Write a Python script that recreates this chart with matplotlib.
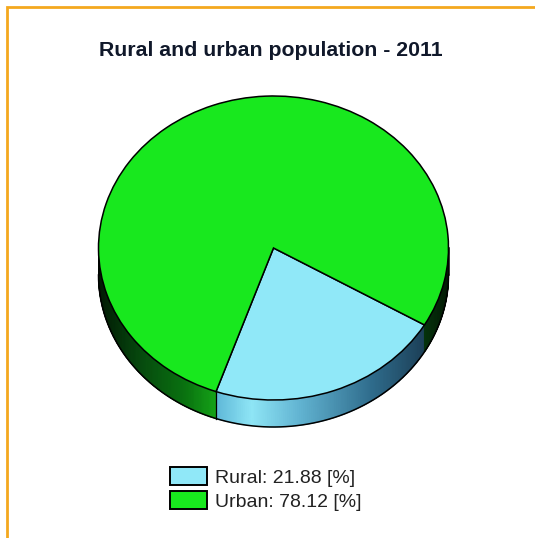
import numpy as np
import matplotlib.pyplot as plt
from matplotlib.colors import LinearSegmentedColormap
from matplotlib.lines import Line2D
from matplotlib.patches import Patch, Wedge

plt.rcParams['font.family'] = ['Liberation Sans', 'DejaVu Sans']

title = 'Rural and urban population - 2011'
labels = ['Rural', 'Urban']
values = [21.88, 78.12]
colors = ['#90e8f8', '#18e81e']

W, H = 535, 538
cx, cy = 273.5, 248      # pie centre in pixels
rx, ry = 175, 152        # ellipse radii in pixels
depth = 27 / ry
start = -30.4            # rural slice starts here and runs clockwise

fig = plt.figure(figsize=(W / 100, H / 100), dpi=100)
ax = fig.add_axes([0, 0, 1, 1])
ax.set_xlim(-cx / rx, (W - cx) / rx)
ax.set_ylim(-(H - cy) / ry, cy / ry)
ax.axis('off')

# gradients on the side wall, as a function of x along the rim
rural_cmap = LinearSegmentedColormap.from_list('rural', [
    (0.0, '#5fb8d8'), (0.17, '#8fe6f6'), (0.40, '#62b4d2'), (0.75, '#2f6c8c'), (1.0, '#1c4058')])
urban_cmap = LinearSegmentedColormap.from_list('urban', [
    (0.0, '#021a04'), (0.12, '#064a0e'), (0.25, '#0a7410'), (0.34, '#16a618'),
    (0.50, '#0f8012'), (0.90, '#074010'), (1.0, '#021a04')])


def side_wall(a0, a1, cmap):
    t = np.radians(np.linspace(a0, a1, 120))
    x = np.cos(t)
    y = np.sin(t)
    X = np.vstack([x, x])
    Y = np.vstack([y, y - depth])
    ax.pcolormesh(X, Y, (X + 1) / 2, shading='gouraud', cmap=cmap, vmin=0, vmax=1, zorder=1)


sweep = [v / sum(values) * 360 for v in values]
rural_end = start - sweep[0]

# rural slice gradient only spans its own part of the rim
lo, hi = np.cos(np.radians(rural_end)), np.cos(np.radians(start))
t = np.radians(np.linspace(rural_end, start, 120))
x, y = np.cos(t), np.sin(t)
X = np.vstack([x, x])
Y = np.vstack([y, y - depth])
ax.pcolormesh(X, Y, (X - lo) / (hi - lo), shading='gouraud', cmap=rural_cmap, vmin=0, vmax=1, zorder=1)

side_wall(-180, rural_end, urban_cmap)
side_wall(start, 0, urban_cmap)

# outline of the wall
t = np.radians(np.linspace(-180, 0, 200))
ax.plot(np.cos(t), np.sin(t) - depth, color='black', lw=1.1, zorder=2)
ax.plot([-1, -1], [0, -depth], color='black', lw=1.1, zorder=2)
ax.plot([1, 1], [0, -depth], color='black', lw=1.1, zorder=2)
px = np.cos(np.radians(rural_end))
py = np.sin(np.radians(rural_end))
ax.plot([px, px], [py, py - depth], color='black', lw=0.9, zorder=2)

# top face
ax.add_patch(Wedge((0, 0), 1, rural_end, start, fc=colors[0], ec='black', lw=1.1, zorder=3))
ax.add_patch(Wedge((0, 0), 1, start, rural_end, fc=colors[1], ec='black', lw=1.1, zorder=3))

fig.text(271 / W, 1 - 51 / H, title, ha='center', va='center', fontsize=15.3,
         fontweight='bold', color='#10182a')

handles = [Patch(fc=c, ec='black', lw=1.4) for c in colors]
legend_labels = [f'{n}: {v:.2f} [%]' for n, v in zip(labels, values)]
leg = ax.legend(handles, legend_labels, loc='center left',
                bbox_to_anchor=(166 / W, 1 - 489 / H), bbox_transform=fig.transFigure,
                frameon=False, fontsize=14, handlelength=1.9, handleheight=1.0,
                handletextpad=0.4, labelspacing=0.24, borderpad=0.2, borderaxespad=0)
for txt in leg.get_texts():
    txt.set_color('#222222')

# orange frame on top and left
fig.add_artist(Line2D([7 / W, 7 / W, 1], [0, 1 - 7 / H, 1 - 7 / H],
                      color='#f4a81e', lw=2.0, solid_joinstyle='miter'))

fig.savefig('out.png', dpi=100)
